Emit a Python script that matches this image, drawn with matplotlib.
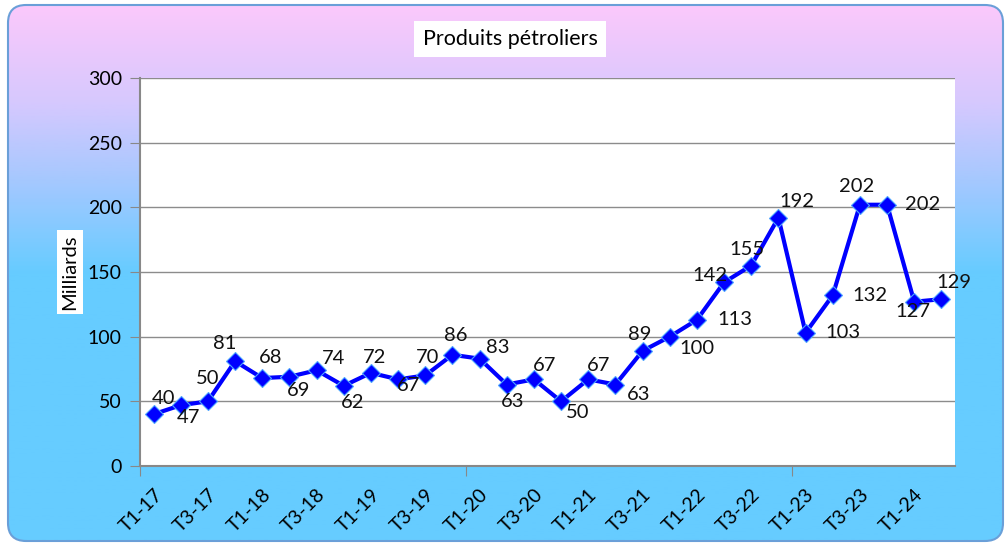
import matplotlib.pyplot as plt
import numpy as np
from matplotlib.colors import LinearSegmentedColormap
from matplotlib.patches import FancyBboxPatch

plt.rcParams['font.family'] = ['Lato', 'DejaVu Sans']

# quarterly data, T1-17 .. T2-24
quarters = ["T1-17", "T2-17", "T3-17", "T4-17", "T1-18", "T2-18", "T3-18", "T4-18",
            "T1-19", "T2-19", "T3-19", "T4-19", "T1-20", "T2-20", "T3-20", "T4-20",
            "T1-21", "T2-21", "T3-21", "T4-21", "T1-22", "T2-22", "T3-22", "T4-22",
            "T1-23", "T2-23", "T3-23", "T4-23", "T1-24", "T2-24"]
values = [40, 47, 50, 81, 68, 69, 74, 62, 72, 67, 70, 86, 83, 63, 67, 50,
          67, 63, 89, 100, 113, 142, 155, 192, 103, 132, 202, 202, 127, 129]

# where each value label sits relative to its marker (pixels, x right / y up)
label_offsets = [(10, 16), (8, -12), (0, 23), (-10, 18), (8, 21), (9, -14), (17, 12), (9, -17),
                 (4, 15), (10, -6), (2, 18), (3, 19), (18, 11), (6, -17), (11, 14), (17, -11),
                 (10, 14), (23, -10), (-3, 16), (27, -12), (38, 0), (-14, 7), (-4, 16), (18, 16),
                 (37, 0), (37, 0), (-3, 18), (36, 0), (-1, -10), (12, 17)]

fig = plt.figure(figsize=(10.05, 5.46), dpi=100)

# background: rounded frame with pink -> blue gradient
bg = fig.add_axes([0, 0, 1, 1])
bg.set_axis_off()
bg.set_xlim(0, 1005)
bg.set_ylim(546, 0)
cmap = LinearSegmentedColormap.from_list(
    "bg", [(0, "#fbc9fb"), (0.18, "#d6c8fe"), (0.33, "#a4c8ff"), (0.5, "#66ccff"), (1, "#66ccff")])
grad = np.linspace(0, 1, 400).reshape(-1, 1)
im = bg.imshow(grad, cmap=cmap, extent=(8, 1003, 541, 5), aspect="auto")
frame = FancyBboxPatch((26, 23), 959, 500, boxstyle="round,pad=18",
                       fc="none", ec="#6a9fd8", lw=1.5)
bg.add_patch(frame)
im.set_clip_path(frame)

# main chart
ax = fig.add_axes([140 / 1005, 80 / 546, 815 / 1005, 388 / 546])
ax.set_facecolor("white")
x = np.arange(len(values))
ax.plot(x, values, color="#0000ff", lw=3, marker="D", ms=9,
        mfc="#0000ff", mec="#4da6ff", mew=0.8, zorder=3)
for xi, v, (dx, dy) in zip(x, values, label_offsets):
    ax.annotate(str(v), (xi, v), xytext=(dx, dy), textcoords="offset pixels",
                ha="center", va="center", fontsize=14.5, color="#111111", zorder=4)

ax.set_xlim(-0.5, len(values) - 0.5)
ax.set_ylim(0, 300)
ax.set_yticks(range(0, 301, 50))
ax.grid(axis="y", color="#8c8c8c", lw=1)
ax.set_axisbelow(True)
for s in ["top", "right"]:
    ax.spines[s].set_visible(False)
for s in ["left", "bottom"]:
    ax.spines[s].set_color("#888888")
    ax.spines[s].set_linewidth(1.5)

ax.set_xticks([-0.5, 11.5, 23.5], labels=[])
ax.set_xticks(x[::2], labels=quarters[::2], minor=True)
ax.tick_params(axis="x", which="major", length=7, color="#888888")
ax.tick_params(axis="x", which="minor", length=0, pad=14, labelsize=14)
for lbl in ax.get_xticklabels(minor=True):
    lbl.set_rotation(45)
    lbl.set_ha("right")
    lbl.set_va("top")
    lbl.set_rotation_mode("anchor")
ax.tick_params(axis="y", length=7, color="#888888", labelsize=14, pad=6)

fig.text(510 / 1005, 1 - 39 / 546, "Produits pétroliers", ha="center", va="center",
         fontsize=15.5, bbox=dict(fc="white", ec="none", pad=6))
fig.text(70 / 1005, 1 - 272 / 546, "Milliards", rotation=90, ha="center", va="center",
         fontsize=14.5, bbox=dict(fc="white", ec="none", pad=3))

fig.savefig("out.png", dpi=100)
